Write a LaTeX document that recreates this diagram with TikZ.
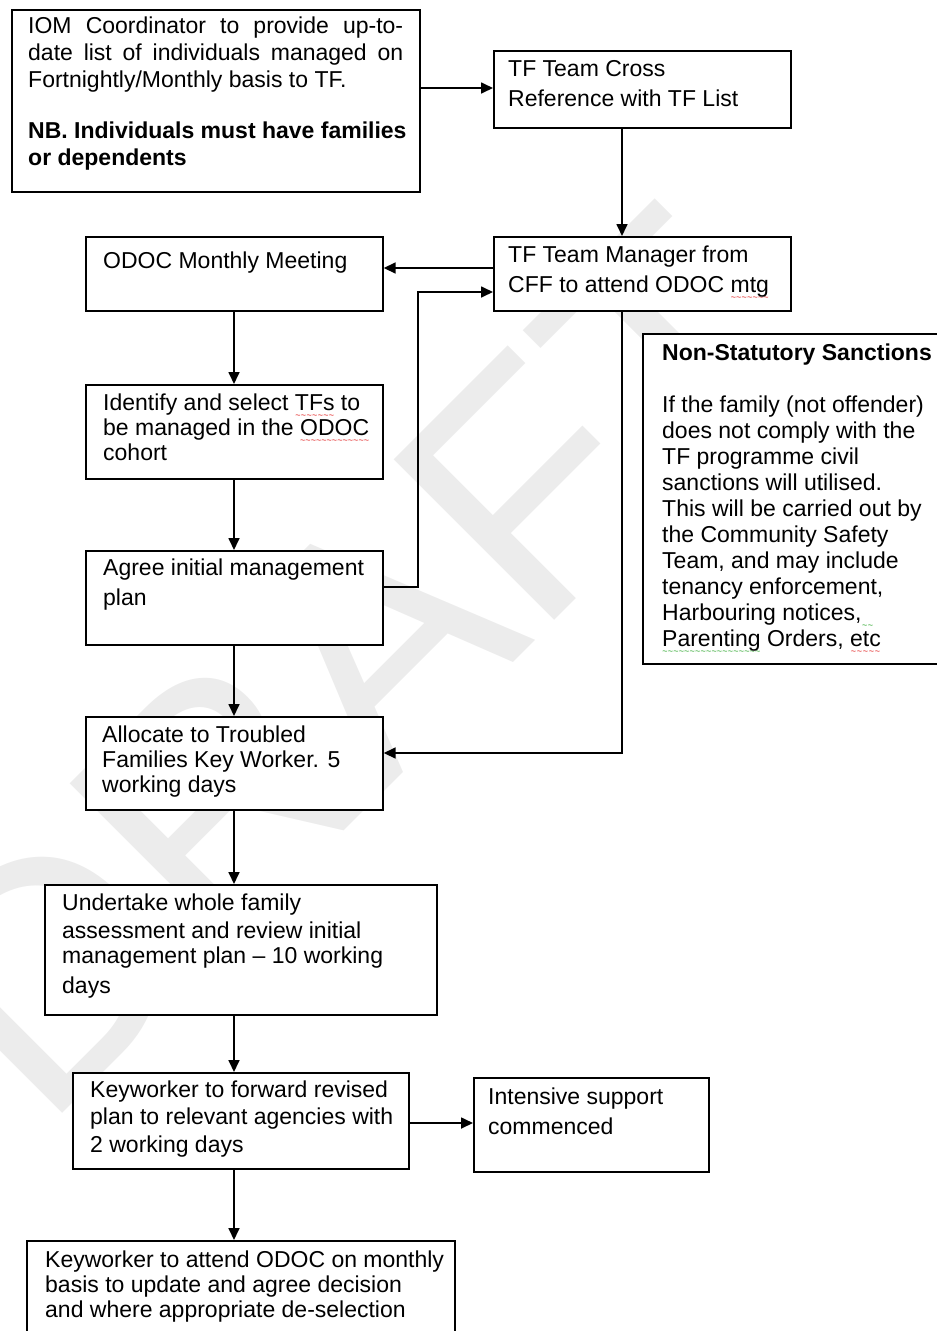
\documentclass[tikz,border=0pt]{standalone}
\usepackage{fontspec}
\setmainfont{Liberation Sans}
\usetikzlibrary{arrows.meta}
\definecolor{wmgray}{RGB}{236,236,236}
\definecolor{sqred}{RGB}{225,30,30}
\definecolor{sqgreen}{RGB}{40,165,40}
\newcommand\sq[2]{\leavevmode\setbox0\hbox{#2}\rlap{\textcolor{#1}{\lower8pt\hbox to\wd0{\fontsize{9}{9}\selectfont\xleaders\hbox{\char"7E}\hfil}}}\box0\relax}
\newcommand\jline[1]{\leavevmode\hbox to 375pt{#1}}
\begin{document}
\begin{tikzpicture}[x=1pt,y=-1pt,
  box/.style={draw, line width=1.7pt, fill=white, inner sep=0pt, anchor=north west},
  txt/.style={anchor=base west, inner sep=0pt, align=left, text width=#1,
    execute at begin node={\spaceskip=0pt\relax\xspaceskip=0pt\relax}},
  fs/.style={font=\fontsize{23}{#1}\selectfont},
  conn/.style={line width=1.7pt, -{Triangle[length=12pt,width=11pt]}}]
\useasboundingbox (0,0) rectangle (937,1331);
\clip (0,0) rectangle (937,1331);
% watermark
\node[font=\fontsize{330}{330}\selectfont, text=wmgray, rotate=45, inner sep=0pt] (wm) at (352,663) {DRAFT};
% boxes
\node[box, minimum width=408, minimum height=182] (iom) at (11,9) {};
\node[box, minimum width=297, minimum height=77] (tfx) at (493,50) {};
\node[box, minimum width=297, minimum height=74] (tfm) at (493,236) {};
\node[box, minimum width=297, minimum height=74] (odoc) at (85,236) {};
\node[box, minimum width=297, minimum height=94] (ident) at (85,384) {};
\node[box, minimum width=297, minimum height=94] (agree) at (85,550) {};
\node[box, minimum width=297, minimum height=93] (alloc) at (85,716) {};
\node[box, minimum width=392, minimum height=130] (under) at (44,884) {};
\node[box, minimum width=336, minimum height=96] (kfwd) at (72,1072) {};
\node[box, minimum width=235, minimum height=94] (inten) at (473,1077) {};
\node[box, minimum width=428, minimum height=130] (katt) at (26,1240) {};
\node[box, minimum width=330, minimum height=330] (nonst) at (642,333) {};
% helper coordinates
\coordinate (spine) at (234,0);
\coordinate (trunkx) at (622,0);
\coordinate (loopx) at (418,0);
\coordinate (ya) at (0,268);
\coordinate (yb) at (0,292);
\coordinate (yc) at (0,587);
\coordinate (yd) at (0,753);
\coordinate (ye) at (0,1123);
\coordinate (yf) at (0,88);
% connectors
\draw[conn] (iom.east |- yf) -- (tfx.west |- yf);
\draw[conn] (tfx.south -| trunkx) -- (tfm.north -| trunkx);
\draw[conn] (tfm.west |- ya) -- (odoc.east |- ya);
\draw[conn] (agree.east |- yc) -| (loopx |- yb) -- (tfm.west |- yb);
\draw[conn] (tfm.south -| trunkx) |- (alloc.east |- yd);
\draw[conn] (odoc.south -| spine) -- (ident.north -| spine);
\draw[conn] (ident.south -| spine) -- (agree.north -| spine);
\draw[conn] (agree.south -| spine) -- (alloc.north -| spine);
\draw[conn] (alloc.south -| spine) -- (under.north -| spine);
\draw[conn] (under.south -| spine) -- (kfwd.north -| spine);
\draw[conn] (kfwd.east |- ye) -- (inten.west |- ye);
\draw[conn] (kfwd.south -| spine) -- (katt.north -| spine);
% texts
\node[txt=400pt, fs=27] (iom-t) at (28,33) {\jline{IOM\hfil\ Coordinator\hfil\ to\hfil\ provide\hfil\ up-to-}\\
\jline{date\hfil\ list\hfil\ of\hfil\ individuals\hfil\ managed\hfil\ on}\\
Fortnightly/Monthly basis to TF.\\[24pt]
\textbf{NB. Individuals must have families}\\
\textbf{or dependents}};
\node[txt=400pt, fs=30] (tfx-t) at (508,76) {TF Team Cross\\ Reference with TF List};
\node[txt=400pt, fs=30] (tfm-t) at (508,262) {TF Team Manager from\\ CFF to attend ODOC \sq{sqred}{mtg}};
\node[txt=400pt, fs=27] (odoc-t) at (103,268) {ODOC Monthly Meeting};
\node[txt=400pt, fs=25] (ident-t) at (103,410) {Identify and select \sq{sqred}{TFs} to\\ be managed in the \sq{sqred}{ODOC}\\ cohort};
\node[txt=400pt, fs=30] (agree-t) at (103,575) {Agree initial management\\ plan};
\node[txt=400pt, fs=25] (alloc-t) at (102,742) {Allocate to Troubled\\ Families Key Worker. 5\\ working days};
\node[txt=400pt, fs=27] (under-t) at (62,910) {Undertake whole family\\[1pt] assessment and review initial\\[-2pt] management plan \textendash{} 10 working\\[3pt] days};
\node[txt=400pt, fs=27.5] (kfwd-t) at (90,1097) {Keyworker to forward revised\\ plan to relevant agencies with\\ 2 working days};
\node[txt=400pt, fs=30] (inten-t) at (488,1104) {Intensive support\\ commenced};
\node[txt=450pt, fs=25] (katt-t) at (45,1267) {Keyworker to attend ODOC on monthly\\ basis to update and agree decision\\ and where appropriate de-selection};
\node[txt=400pt, fs=26] (nonst-t) at (662,360) {\textbf{Non-Statutory Sanctions}\\[26pt]
If the family (not offender)\\
does not comply with the\\
TF programme civil\\
sanctions will utilised.\\
This will be carried out by\\
the Community Safety\\
Team, and may include\\
tenancy enforcement,\\
Harbouring notices,\sq{sqgreen}{\hspace{12pt}}\\
\sq{sqgreen}{Parenting} Orders, \sq{sqred}{etc}};
\end{tikzpicture}
\end{document}
